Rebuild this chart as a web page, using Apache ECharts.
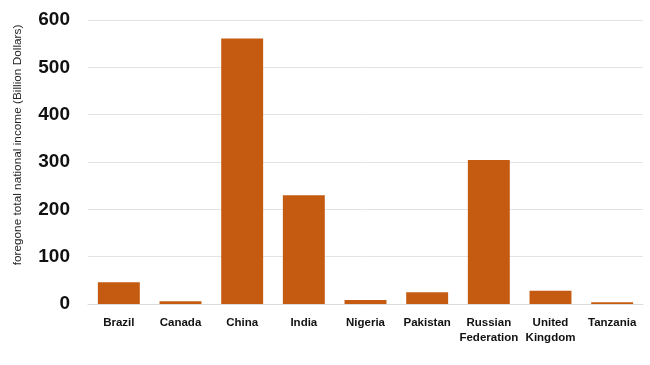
<!DOCTYPE html>
<html><head><meta charset="utf-8">
<script src="https://cdn.jsdelivr.net/npm/echarts@6/dist/echarts.min.js"></script>
<style>html,body{margin:0;padding:0;background:#fff}#c{width:650px;height:365px}</style>
</head><body><div id="c"></div>
<script>
const categories = ['Brazil','Canada','China','India','Nigeria','Pakistan','Russian\nFederation','United\nKingdom','Tanzania'];
const values = [46, 6, 561, 230, 8.5, 25, 304, 28, 3.5];
const yName = 'foregone total national income (Billion Dollars)';
const chart = echarts.init(document.getElementById('c'));
chart.setOption({
  animation:false,
  grid:{left:88,right:7,top:20,bottom:61},
  graphic:[{type:'text',x:18,y:145,rotation:Math.PI/2,
    style:{text:yName,fill:'#222',font:'11.8px "Liberation Sans", Arial',align:'center',verticalAlign:'middle'}}],
  xAxis:{type:'category',data:categories,
    axisLine:{show:true,lineStyle:{color:'#dcdcdc'}},axisTick:{show:false},
    axisLabel:{color:'#111',fontFamily:'Liberation Sans, Arial',fontWeight:'bold',fontSize:11.5,margin:11,lineHeight:15,interval:0}},
  yAxis:{type:'value',min:0,max:600,interval:100,
    axisLine:{show:false},axisTick:{show:false},
    splitLine:{lineStyle:{color:'#e3e3e3'}},
    axisLabel:{color:'#111',fontFamily:'Liberation Sans, Arial',fontWeight:'bold',fontSize:19,margin:18}},
  series:[{type:'bar',data:values,barWidth:'68%',itemStyle:{color:'#C55A11'}}]
});
</script></body></html>
